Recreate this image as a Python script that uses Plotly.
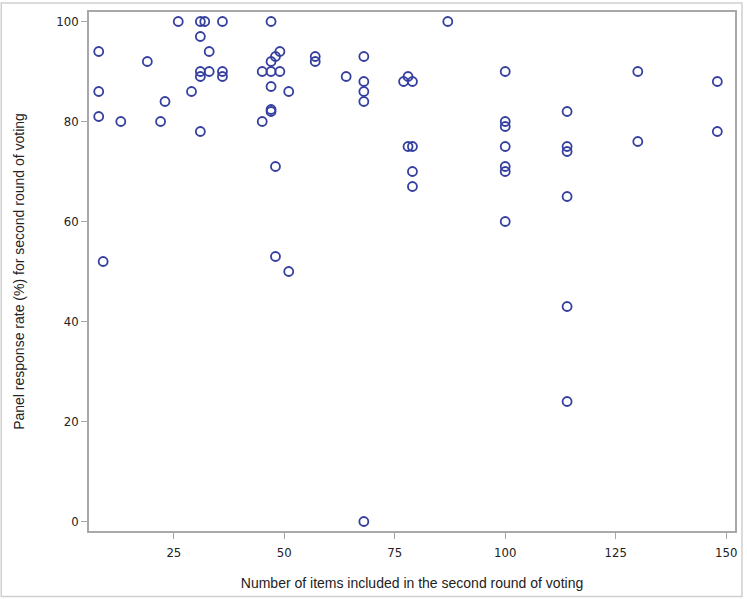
import plotly.graph_objects as go

# -----------------------
# Data
# -----------------------
items = [8, 8, 8, 9, 13, 19, 22, 23, 26, 29,
         31, 32, 31, 31, 31, 31, 33, 33, 36, 36,
         36, 45, 45, 47, 47, 47, 47, 47, 47, 48,
         49, 49, 51, 48, 48, 51, 57, 57, 64, 68,
         68, 68, 68, 68, 77, 78, 79, 78, 79, 79,
         79, 87, 100, 100, 100, 100, 100, 100, 100, 114,
         114, 114, 114, 114, 114, 130, 130, 148, 148]
response = [94, 86, 81, 52, 80, 92, 80, 84, 100, 86,
            100, 100, 97, 90, 89, 78, 94, 90, 100, 90,
            89, 90, 80, 100, 92, 90, 87, 82, 82.4, 93,
            94, 90, 86, 71, 53, 50, 93, 92, 89, 93,
            88, 86, 84, 0, 88, 89, 88, 75, 75, 70,
            67, 100, 90, 80, 79, 75, 71, 70, 60, 82,
            75, 74, 65, 43, 24, 90, 76, 88, 78]

x_ticks = [25, 50, 75, 100, 125, 150]
y_ticks = [0, 20, 40, 60, 80, 100]

# -----------------------
# Scatter
# -----------------------
fig = go.Figure()

fig.add_trace(
    go.Scatter(
        x=items,
        y=response,
        mode="markers",
        marker=dict(symbol="circle-open", size=9, color="#343fa0",
                    line=dict(width=1.8, color="#343fa0")),
        showlegend=False,
    )
)

axis_style = dict(
    showline=True,
    mirror=True,
    linecolor="#a8a8a8",
    linewidth=1.5,
    ticks="outside",
    ticklen=6,
    tickcolor="#a8a8a8",
    showgrid=False,
    zeroline=False,
    tickfont=dict(family="Liberation Sans Narrow, DejaVu Sans Condensed, Arial Narrow, Arial",
                  size=13, color="#222222"),
)

fig.update_layout(
    width=747,
    height=599,
    margin=dict(l=89, r=10, t=10, b=68),
    paper_bgcolor="white",
    plot_bgcolor="white",
    font=dict(family="Liberation Sans, Arial", color="#222222"),
    xaxis=dict(
        axis_style,
        range=[5.8, 152],
        tickvals=x_ticks,
        ticklabelstandoff=3,
        title=dict(text="Number of items included in the second round of voting",
                   font=dict(size=14), standoff=19),
    ),
    yaxis=dict(
        axis_style,
        range=[-1.9, 101.9],
        tickvals=y_ticks,
        title=dict(text="Panel response rate (%) for second round of voting",
                   font=dict(size=14), standoff=28),
    ),
    shapes=[
        dict(type="rect", xref="paper", yref="paper",
             x0=-0.1358, x1=1.0108, y0=-0.126, y1=1.0173,
             line=dict(color="#d0d0d0", width=1.5), layer="below"),
    ],
)

fig.write_html("out.html", config={"displayModeBar": False},
               post_script="document.body.style.margin='0';")
